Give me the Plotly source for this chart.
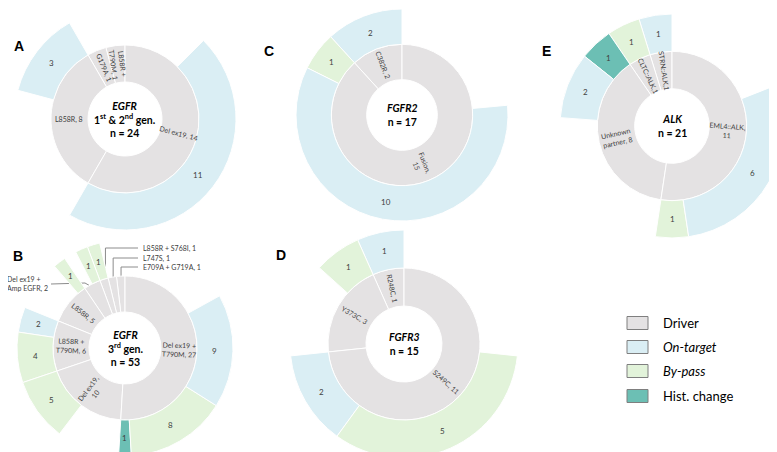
import math
import plotly.graph_objects as go

W, H = 777, 452
FONT = "Lato, 'Open Sans', sans-serif"

# ---------------- data ----------------
A_drivers = ["L858R + T790M", "G179A", "L858R", "Del ex19"]
A_driver_n = [1, 1, 8, 14]
A_driver_text = ["L858R +<br>T790M, 1", "G179A, 1", "L858R, 8", "Del ex19, 14"]
A_res_parent = ["L858R", "Del ex19"]
A_res_type = ["On-target", "On-target"]
A_res_n = [3, 11]

B_drivers = ["E709A + G719A", "L747S", "L858R + S768I", "Del ex19 + Amp EGFR",
             "L858R", "L858R + T790M", "Del ex19", "Del ex19 + T790M"]
B_driver_n = [1, 1, 1, 2, 5, 6, 10, 27]
B_driver_text = [None, None, None, None, "L858R, 5", "L858R +<br>T790M, 6",
                 "Del ex19,<br>10", "Del ex19 +<br>T790M, 27"]
B_res_parent = ["L858R + S768I", "Del ex19 + Amp EGFR", "L858R", "L858R + T790M",
                "L858R + T790M", "Del ex19", "Del ex19 + T790M", "Del ex19 + T790M",
                "Del ex19 + T790M"]
B_res_type = ["By-pass", "By-pass", "By-pass", "On-target", "By-pass", "By-pass",
              "Hist. change", "By-pass", "On-target"]
B_res_n = [1, 1, 1, 2, 4, 5, 1, 8, 9]
B_callouts = ["E709A + G719A, 1", "L747S, 1", "L858R + S768I, 1", "Del ex19 +<br>Amp EGFR, 2"]

C_drivers = ["C382R", "Fusion"]
C_driver_n = [2, 15]
C_driver_text = ["C382R, 2", "Fusion,<br>15"]
C_res_parent = ["C382R", "Fusion", "Fusion"]
C_res_type = ["On-target", "By-pass", "On-target"]
C_res_n = [2, 1, 10]

D_drivers = ["R248C", "Y373C", "S249C"]
D_driver_n = [1, 3, 11]
D_driver_text = ["R248C, 1", "Y373C, 3", "S249C, 11"]
D_res_parent = ["R248C", "Y373C", "S249C", "S249C"]
D_res_type = ["On-target", "By-pass", "On-target", "By-pass"]
D_res_n = [1, 1, 2, 5]

E_drivers = ["STRN::ALK", "CLTC::ALK", "Unknown partner", "EML4::ALK"]
E_driver_n = [1, 1, 8, 11]
E_driver_text = ["STRN::ALK,1", "CLTC::ALK,1", "Unknown<br>partner, 8", "EML4::ALK,<br>11"]
E_res_parent = ["STRN::ALK", "CLTC::ALK", "Unknown partner", "Unknown partner",
                "EML4::ALK", "EML4::ALK"]
E_res_type = ["On-target", "By-pass", "Hist. change", "On-target", "By-pass", "On-target"]
E_res_n = [1, 1, 1, 2, 1, 6]

legend_items = ["Driver", "On-target", "By-pass", "Hist. change"]
legend_text = ["Driver", "<i>On-target</i>", "<i>By-pass</i>", "Hist. change"]

# ---------------- style ----------------
COLORS = {"Driver": "#E4E2E3", "On-target": "#DAEEF4", "By-pass": "#E2F3DA",
          "Hist. change": "#6CBFB4"}

panels = [
    dict(key="A", drivers=A_drivers, n=A_driver_n, text=A_driver_text,
         rp=A_res_parent, rt=A_res_type, rn=A_res_n,
         center="<b><i>EGFR</i></b><br><b>1<sup>st</sup> & 2<sup>nd</sup> gen.</b><br><b>n = 24</b>",
         cx=117, cy=111, R=111, letter=(11, 38)),
    dict(key="B", drivers=B_drivers, n=B_driver_n, text=B_driver_text,
         rp=B_res_parent, rt=B_res_type, rn=B_res_n,
         center="<b><i>EGFR</i></b><br><b>3<sup>rd</sup> gen.</b><br><b>n = 53</b>",
         cx=117, cy=340, R=108, letter=(10, 248)),
    dict(key="C", drivers=C_drivers, n=C_driver_n, text=C_driver_text,
         rp=C_res_parent, rt=C_res_type, rn=C_res_n,
         center="<b><i>FGFR2</i></b><br><b>n = 17</b>",
         cx=394, cy=107, R=106, letter=(261, 43)),
    dict(key="D", drivers=D_drivers, n=D_driver_n, text=D_driver_text,
         rp=D_res_parent, rt=D_res_type, rn=D_res_n,
         center="<b><i>FGFR3</i></b><br><b>n = 15</b>",
         cx=396, cy=336, R=114, letter=(273, 247)),
    dict(key="E", drivers=E_drivers, n=E_driver_n, text=E_driver_text,
         rp=E_res_parent, rt=E_res_type, rn=E_res_n,
         center="<b><i>ALK</i></b><br><b>n = 21</b>",
         cx=664, cy=118, R=112, letter=(538, 43)),
]


def px2paper(x, y):
    return x / W, 1 - y / H


def polar_pt(cx, cy, r, th):
    t = math.radians(th)
    return cx + r * math.sin(t), cy - r * math.cos(t)


def radial_angle(th):
    th = th % 360
    return th - 90 if th <= 180 else th - 270


def note(x, y, text, size, color="#404040", family=FONT, angle=0,
         xanchor="center", align="center"):
    xp, yp = px2paper(x, y)
    return dict(x=xp, y=yp, xref="paper", yref="paper", text=text, showarrow=False,
                xanchor=xanchor, yanchor="middle", align=align, textangle=angle,
                font=dict(size=size, color=color, family=family))


fig = go.Figure()
annotations = []
shapes = []
sector_angles = {}

for p in panels:
    k = p["key"]
    total = sum(p["n"])
    ids, labels, parents, values, colors = [k], [k], [""], [total], ["white"]
    for d, v in zip(p["drivers"], p["n"]):
        ids.append(f"{k}/{d}")
        labels.append(d)
        parents.append(k)
        values.append(v)
        colors.append(COLORS["Driver"])
    for i, (par, typ, v) in enumerate(zip(p["rp"], p["rt"], p["rn"])):
        ids.append(f"{k}/{par}/{typ}/{i}")
        labels.append(typ)
        parents.append(f"{k}/{par}")
        values.append(v)
        colors.append(COLORS[typ])

    cx, cy, R = p["cx"], p["cy"], p["R"]
    x0, y1 = px2paper(cx - R, cy - R)
    x1, y0 = px2paper(cx + R, cy + R)
    fig.add_trace(go.Sunburst(
        ids=ids, labels=labels, parents=parents, values=values,
        branchvalues="total", sort=False, rotation=90,
        marker=dict(colors=colors, line=dict(color="white", width=1)),
        leaf=dict(opacity=1), textinfo="none", hoverinfo="label+value",
        domain=dict(x=[max(0, x0), min(1, x1)], y=[max(0, y0), min(1, y1)]),
    ))

    # label positions derived from the data (counter-clockwise from 12 o'clock)
    unit = 360.0 / total
    start = 360.0
    child_start = {}
    mids = {}
    for d, v, t in zip(p["drivers"], p["n"], p["text"]):
        mid = start - v * unit / 2
        mids[d] = mid
        child_start[d] = start
        if t:
            x, y = polar_pt(cx, cy, R / 2, mid)
            annotations.append(note(x, y, t, 7, angle=radial_angle(mid)))
        start -= v * unit
    sector_angles[k] = mids
    for par, typ, v in zip(p["rp"], p["rt"], p["rn"]):
        s = child_start[par]
        mid = s - v * unit / 2
        child_start[par] = s - v * unit
        x, y = polar_pt(cx, cy, 5 * R / 6, mid)
        annotations.append(note(x, y, str(v), 8))
    annotations.append(note(cx, cy, p["center"], 10.5, color="black"))
    annotations.append(note(p["letter"][0], p["letter"][1], f"<b>{k}</b>", 14,
                            color="black", family="Liberation Sans, Arial"))

# callouts for the small sectors of panel B
pb = panels[1]
mids = sector_angles["B"]
callout_y = [259, 250, 240]
for d, txt, ty in zip(B_drivers[:3], B_callouts[:3], callout_y):
    sx, sy = polar_pt(pb["cx"], pb["cy"], pb["R"] * 0.62, mids[d])
    annotations.append(note(133, ty, txt, 7, xanchor="left", align="left"))
    p1 = px2paper(130, ty)
    p2 = px2paper(sx, ty)
    p3 = px2paper(sx, sy)
    shapes.append(dict(type="path", xref="paper", yref="paper", layer="below",
                       path=f"M {p1[0]},{p1[1]} L {p2[0]},{p2[1]} L {p3[0]},{p3[1]}",
                       line=dict(color="#8C8C8C", width=1)))
d = B_drivers[3]
sx, sy = polar_pt(pb["cx"], pb["cy"], pb["R"] * 0.62, mids[d])
annotations.append(note(42, 276, B_callouts[3], 7, xanchor="right", align="left"))
p1 = px2paper(43, 276)
p2 = px2paper(77, 275)
p3 = px2paper(sx, sy)
shapes.append(dict(type="path", xref="paper", yref="paper", layer="below",
                   path=f"M {p1[0]},{p1[1]} L {p2[0]},{p2[1]} L {p3[0]},{p3[1]}",
                   line=dict(color="#8C8C8C", width=1)))

# legend
legend_y = [315, 339, 363, 388]
for item, txt, yc in zip(legend_items, legend_text, legend_y):
    bx0, by0 = px2paper(619, yc + 6.5)
    bx1, by1 = px2paper(640, yc - 6.5)
    shapes.append(dict(type="rect", xref="paper", yref="paper", x0=bx0, y0=by0,
                       x1=bx1, y1=by1, fillcolor=COLORS[item],
                       line=dict(color="#7F7F7F", width=1)))
    annotations.append(note(653, yc, txt, 13, color="black", xanchor="left", align="left"))

fig.update_layout(
    width=W, height=H, margin=dict(l=0, r=0, t=0, b=0),
    paper_bgcolor="white", plot_bgcolor="white",
    annotations=annotations, shapes=shapes, showlegend=False,
)
fig.write_html("out.html")
